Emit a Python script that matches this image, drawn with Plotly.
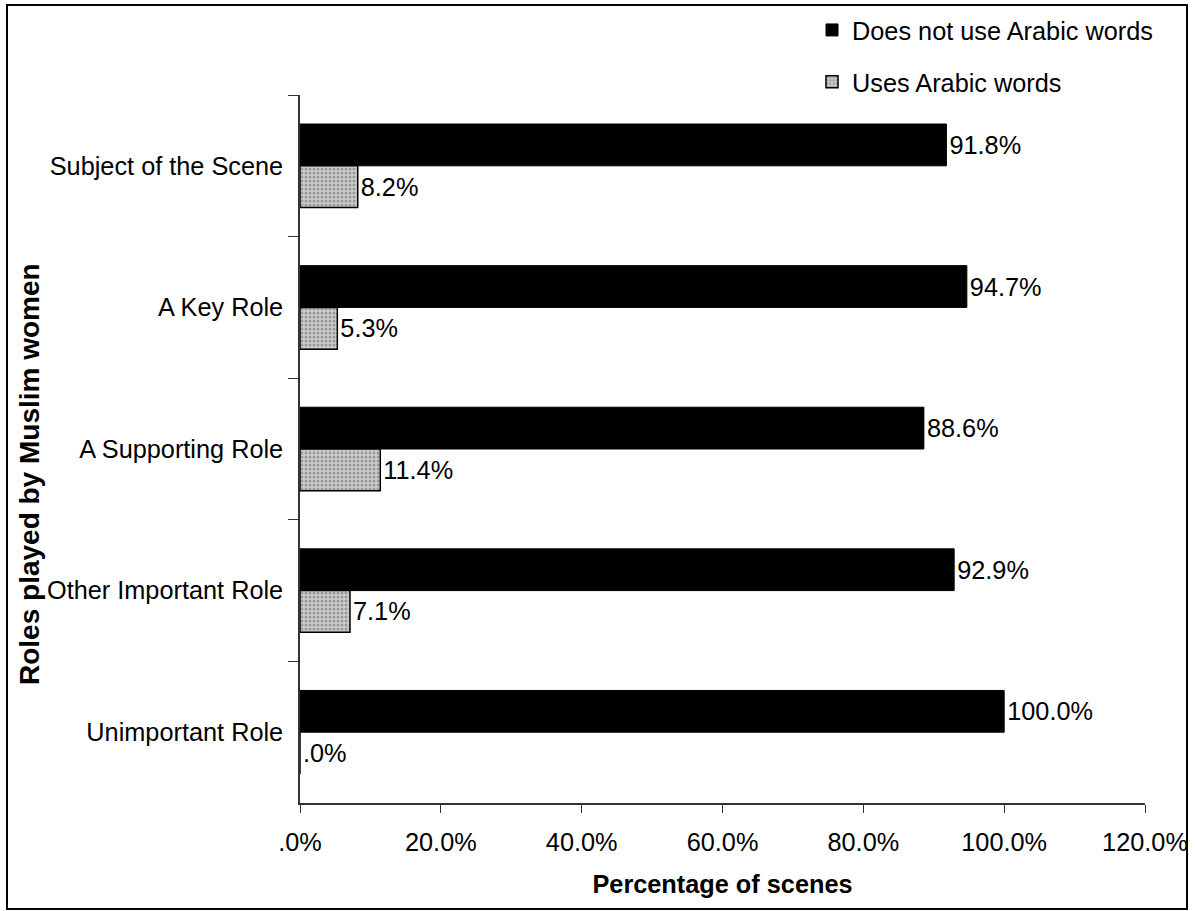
import plotly.graph_objects as go

# ---- data ----
categories = ["Subject of the Scene", "A Key Role", "A Supporting Role",
              "Other Important Role", "Unimportant Role"]
no_arabic = [91.8, 94.7, 88.6, 92.9, 100.0]
uses_arabic = [8.2, 5.3, 11.4, 7.1, 0.0]
x_tick_vals = [0, 20, 40, 60, 80, 100, 120]
x_tick_text = [".0%", "20.0%", "40.0%", "60.0%", "80.0%", "100.0%", "120.0%"]


def fmt(v):
    s = f"{v:.1f}"
    if s.startswith("0."):
        s = s[1:]
    return s + "%"


FONT = "Liberation Sans, Arial, sans-serif"
FS = 25.3

W, H = 1196, 911
L, R, T, B = 300, 51, 95, 108
PW, PH = W - L - R, H - T - B


def px_x(p):
    return (p - L) / PW


def px_y(p):
    return (H - B - p) / PH


fig = go.Figure()
fig.add_trace(go.Bar(
    y=categories, x=no_arabic, orientation="h",
    name="Does not use Arabic words", legendgroup="a",
    marker=dict(color="black", line=dict(color="black", width=1)),
    text=[fmt(v) for v in no_arabic], textposition="outside",
    textfont=dict(size=FS, color="black", family=FONT),
    constraintext="none", cliponaxis=False,
))
fig.add_trace(go.Bar(
    y=categories, x=uses_arabic, orientation="h",
    name="Uses Arabic words", legendgroup="b",
    marker=dict(color="#b5b5b5", line=dict(color="black", width=1.5),
                pattern=dict(shape=".", fgcolor="#666666", bgcolor="#cdcdcd",
                             size=4, solidity=0.45)),
    text=[fmt(v) for v in uses_arabic], textposition="outside",
    textfont=dict(size=FS, color="black", family=FONT),
    constraintext="none", cliponaxis=False,
))

fig.update_layout(
    width=W, height=H,
    margin=dict(l=L, r=R, t=T, b=B, autoexpand=False),
    paper_bgcolor="white", plot_bgcolor="white",
    font=dict(family=FONT, size=FS, color="black"),
    barmode="group", bargap=0.41, bargroupgap=0,
    showlegend=True,
    legend=dict(x=px_x(812), y=px_y(7), xanchor="left", yanchor="top",
                font=dict(size=FS), tracegroupgap=16,
                bgcolor="rgba(0,0,0,0)", traceorder="grouped"),
    xaxis=dict(range=[0, 120], tickvals=x_tick_vals, ticktext=x_tick_text,
               ticks="outside", ticklen=8, tickcolor="#333",
               showline=True, linecolor="#333", linewidth=1.5,
               showgrid=False, zeroline=False,
               tickfont=dict(size=FS), ticklabelstandoff=8,
               title=dict(text="<b>Percentage of scenes</b>",
                          font=dict(size=FS), standoff=20)),
    yaxis=dict(type="category", categoryorder="array", categoryarray=categories,
               autorange="reversed", tickson="boundaries",
               ticks="outside", ticklen=10, tickcolor="#333",
               showline=True, linecolor="#333", linewidth=1.5,
               showgrid=False, zeroline=False,
               tickfont=dict(size=FS), ticklabelstandoff=10),
    annotations=[dict(text="<b>Roles played by Muslim women</b>",
                      textangle=-90, xref="paper", yref="paper",
                      x=px_x(29), y=px_y(474), showarrow=False,
                      xanchor="center", yanchor="middle",
                      font=dict(size=28, color="black"))],
    shapes=[dict(type="rect", xref="paper", yref="paper",
                 x0=px_x(7), x1=px_x(1187), y0=px_y(909), y1=px_y(5),
                 line=dict(color="black", width=2), fillcolor="rgba(0,0,0,0)",
                 layer="below")],
)

fig.write_html("out.html")
